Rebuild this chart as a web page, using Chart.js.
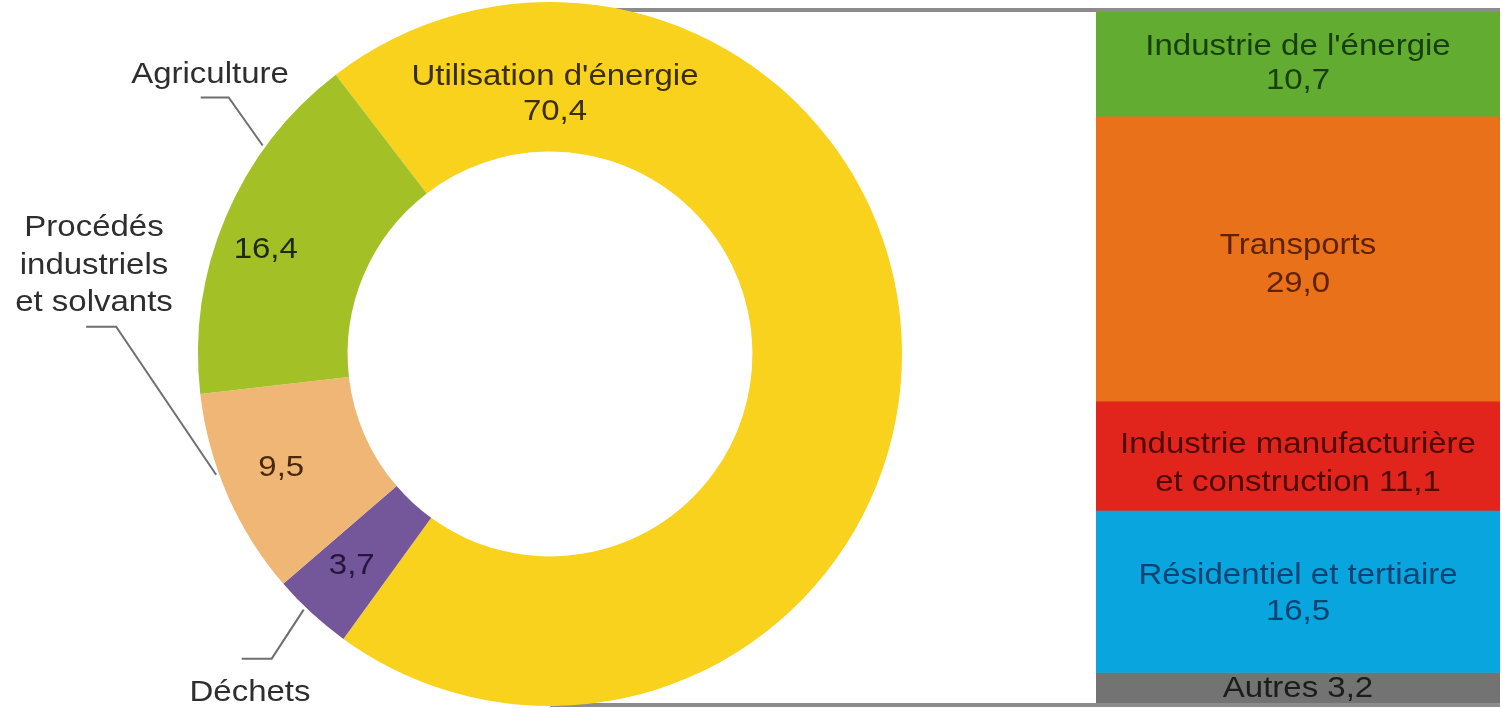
<!DOCTYPE html>
<html>
<head>
<meta charset="utf-8">
<script src="https://cdn.jsdelivr.net/npm/chart.js@4.4.1/dist/chart.umd.min.js"></script>
<style>
  html, body { margin: 0; padding: 0; background: #fff; }
  body { width: 1502px; height: 708px; position: relative; overflow: hidden; }
  #barre { position: absolute; left: 1096px; top: 11px; }
  #anneau { position: absolute; left: 0; top: 0; z-index: 2; }
</style>
</head>
<body>
<canvas id="barre" width="404" height="693"></canvas>
<canvas id="anneau" width="1502" height="708"></canvas>
<script>
// Émissions par source (anneau)
const sources = ["Utilisation d'énergie", "Déchets", "Procédés industriels et solvants", "Agriculture"];
const valeursSources = [70.4, 3.7, 9.5, 16.4];
const couleursSources = ['#f8d21c', '#74579a', '#efb676', '#a3c127'];
const texteSources = ['#3a2f00', '#24163d', '#4a280a', '#1c2a06'];

// Détail de l'utilisation d'énergie (barre), du haut vers le bas
const usages = ["Industrie de l'énergie", "Transports", "Industrie manufacturière et construction", "Résidentiel et tertiaire", "Autres"];
const valeursUsages = [10.7, 29.0, 11.1, 16.5, 3.2];
const couleursUsages = ['#62ac32', '#e9711a', '#e2251c', '#08a5de', '#737373'];
const texteUsages = ['#17400b', '#5e2206', '#4d0a06', '#0a4272', '#1c1c1c'];

const police = "30px 'Liberation Sans', Arial, sans-serif";
const fmt = v => v.toFixed(1).replace('.', ',');

function texte(ctx, s, x, y, couleur) {
  ctx.save();
  ctx.translate(x, y);
  ctx.scale(1.1, 1);
  ctx.font = police;
  ctx.fillStyle = couleur;
  ctx.textAlign = 'center';
  ctx.textBaseline = 'middle';
  ctx.fillText(s, 0, 0);
  ctx.restore();
}

function surArc(arc, frac, r) {
  const a = arc.startAngle + frac * (arc.endAngle - arc.startAngle);
  return { x: arc.x + r * Math.cos(a), y: arc.y + r * Math.sin(a) };
}

const etiquettesAnneau = {
  id: 'etiquettesAnneau',
  beforeDatasetsDraw(chart) {
    // traits gris reliant l'anneau à la barre
    const ctx = chart.ctx;
    const arc = chart.getDatasetMeta(0).data[0];
    ctx.save();
    ctx.strokeStyle = '#8c8c8c';
    ctx.lineWidth = 4;
    ctx.beginPath();
    ctx.moveTo(arc.x, 10);
    ctx.lineTo(1500, 10);
    ctx.moveTo(arc.x, 705);
    ctx.lineTo(1500, 705);
    ctx.stroke();
    ctx.restore();
  },
  afterDatasetsDraw(chart) {
    const ctx = chart.ctx;
    const arcs = chart.getDatasetMeta(0).data;

    // valeurs dans l'anneau
    const u = arcs[0];
    const rU = (u.innerRadius + u.outerRadius) / 2;
    texte(ctx, sources[0], u.x + 5, u.y - rU, texteSources[0]);
    texte(ctx, fmt(valeursSources[0]), u.x + 5, u.y - rU + 35, texteSources[0]);
    const fracs = [0, 0.45, 0.5, 0.46];
    const rayons = [0, 0.55, 0.55, 0.62];
    for (let i = 1; i < arcs.length; i++) {
      const a = arcs[i];
      const p = surArc(a, fracs[i], a.innerRadius + rayons[i] * (a.outerRadius - a.innerRadius));
      texte(ctx, fmt(valeursSources[i]), p.x - 8, p.y, texteSources[i]);
    }

    // étiquettes extérieures et traits de rappel
    const rappels = [
      null,
      { frac: 0.6, coude: [-32, 49], fin: -30, lignes: ['Déchets'], tx: 250, ty: [693] },
      { frac: 0.61, coude: [-100, -148], fin: -30, lignes: ['Procédés', 'industriels', 'et solvants'], tx: 94, ty: [228, 266, 303] },
      { frac: 0.72, coude: [-34, -48], fin: -28, lignes: ['Agriculture'], tx: 210, ty: [75] }
    ];
    ctx.save();
    ctx.strokeStyle = '#6f6f6f';
    ctx.lineWidth = 2;
    for (let i = 1; i < arcs.length; i++) {
      const r = rappels[i];
      const p = surArc(arcs[i], r.frac, arcs[i].outerRadius + 3);
      const cx = p.x + r.coude[0], cy = p.y + r.coude[1];
      ctx.beginPath();
      ctx.moveTo(p.x, p.y);
      ctx.lineTo(cx, cy);
      ctx.lineTo(cx + r.fin, cy);
      ctx.stroke();
      r.lignes.forEach((s, k) => texte(ctx, s, r.tx, r.ty[k], '#2e2e2e'));
    }
    ctx.restore();
  }
};

new Chart(document.getElementById('anneau'), {
  type: 'doughnut',
  data: {
    labels: sources,
    datasets: [{
      data: valeursSources,
      backgroundColor: couleursSources,
      borderWidth: 0
    }]
  },
  options: {
    responsive: false,
    animation: false,
    rotation: -37.5,
    cutout: '57.5%',
    layout: { padding: { left: 0, right: 402, top: 2, bottom: 2 } },
    plugins: { legend: { display: false }, tooltip: { enabled: false } }
  },
  plugins: [etiquettesAnneau]
});

const etiquettesBarre = {
  id: 'etiquettesBarre',
  afterDatasetsDraw(chart) {
    const ctx = chart.ctx;
    const decal = [0, 6, 8, 2, 0];
    chart.data.datasets.forEach((ds, i) => {
      const bar = chart.getDatasetMeta(i).data[0];
      const y = (bar.y + bar.base) / 2 + decal[i];
      const x = bar.x;
      const v = fmt(valeursUsages[i]);
      const c = texteUsages[i];
      if (i === 0) { texte(ctx, usages[i], x, y - 17, c); texte(ctx, v, x, y + 17, c); }
      else if (i === 1) { texte(ctx, usages[i], x, y - 19, c); texte(ctx, v, x, y + 19, c); }
      else if (i === 2) { texte(ctx, 'Industrie manufacturière', x, y - 19, c); texte(ctx, 'et construction ' + v, x, y + 19, c); }
      else if (i === 3) { texte(ctx, usages[i], x, y - 18, c); texte(ctx, v, x, y + 18, c); }
      else { texte(ctx, usages[i] + ' ' + v, x, y, c); }
    });
  }
};

new Chart(document.getElementById('barre'), {
  type: 'bar',
  data: {
    labels: [''],
    datasets: usages.map((u, i) => ({
      label: u,
      data: [valeursUsages[i]],
      backgroundColor: couleursUsages[i],
      borderWidth: 0,
      barPercentage: 1,
      categoryPercentage: 1
    }))
  },
  options: {
    responsive: false,
    animation: false,
    layout: { padding: 0 },
    scales: {
      x: { display: false, stacked: true },
      y: { display: false, stacked: true, reverse: true, min: 0, max: 70.5 }
    },
    plugins: { legend: { display: false }, tooltip: { enabled: false } }
  },
  plugins: [etiquettesBarre]
});
</script>
</body>
</html>
